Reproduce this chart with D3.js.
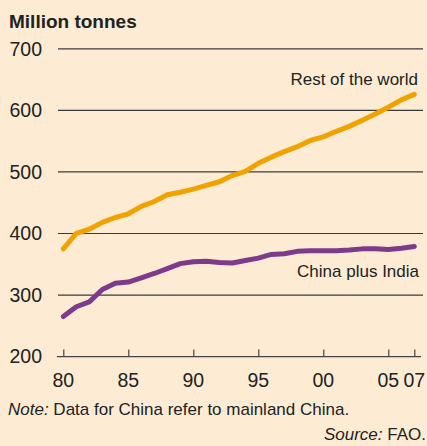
<!DOCTYPE html>
<html>
<head>
<meta charset="utf-8">
<script src="https://cdnjs.cloudflare.com/ajax/libs/d3/7.8.5/d3.min.js"></script>
<style>
    body { margin: 0; background: #fdecd3; }
    text { font-family: "Liberation Sans", Arial, sans-serif; fill: #222; }
</style>
</head>
<body>
<div id="graph"></div>
<script>
var WIDTH = 427;
var HEIGHT = 446;

// Data, million tonnes
var years = [1980, 1981, 1982, 1983, 1984, 1985, 1986, 1987, 1988, 1989,
             1990, 1991, 1992, 1993, 1994, 1995, 1996, 1997, 1998, 1999,
             2000, 2001, 2002, 2003, 2004, 2005, 2006, 2007];
var restOfWorld = [375, 400, 407, 418, 426, 432, 444, 452, 463, 467,
                   472, 478, 484, 494, 501, 514, 524, 533, 541, 551,
                   557, 566, 574, 584, 594, 605, 617, 626];
var chinaIndia = [265, 281, 289, 309, 319, 321, 328, 335, 343, 351,
                  354, 355, 353, 352, 356, 360, 366, 367, 371, 372,
                  372, 372, 373, 375, 375, 374, 376, 379];
var yTicks = [200, 300, 400, 500, 600, 700];
var xTicks = [1980, 1985, 1990, 1995, 2000, 2005, 2007];
var xTickLabels = ["80", "85", "90", "95", "00", "05", "07"];

var svg = d3.select("#graph").append("svg")
    .attr("width", WIDTH)
    .attr("height", HEIGHT);

svg.append("rect")
    .attr("width", WIDTH)
    .attr("height", HEIGHT)
    .attr("fill", "#fdecd3");

var x = d3.scaleLinear().domain([1980, 2007]).range([63.3, 414.3]);
var y = d3.scaleLinear().domain([200, 700]).range([356.6, 48.8]);

// Gridlines
svg.append("g")
    .selectAll("line")
    .data(yTicks.filter(function(d) { return d > 200; }))
    .enter().append("line")
    .attr("x1", 58)
    .attr("x2", 423)
    .attr("y1", function(d) { return y(d); })
    .attr("y2", function(d) { return y(d); })
    .attr("stroke", "#3a3a3a")
    .attr("stroke-width", 1.2);

// Y labels
svg.append("g")
    .selectAll("text")
    .data(yTicks)
    .enter().append("text")
    .attr("x", 42)
    .attr("y", function(d) { return y(d); })
    .attr("dy", "0.35em")
    .attr("text-anchor", "end")
    .style("font-size", "19.5px")
    .text(function(d) { return d; });

// X axis
var xAxis = d3.axisTop(x)
    .tickValues(xTicks)
    .tickSize(7)
    .tickSizeOuter(0)
    .tickFormat("");

var gx = svg.append("g")
    .attr("transform", "translate(0," + y(200) + ")")
    .call(xAxis);
gx.select(".domain")
    .attr("d", "M57,0H421")
    .attr("stroke", "#444")
    .attr("stroke-width", 1.2);
gx.selectAll(".tick line")
    .attr("stroke", "#444")
    .attr("stroke-width", 1.2);

svg.append("g")
    .selectAll("text")
    .data(xTicks)
    .enter().append("text")
    .attr("x", function(d) { return x(d); })
    .attr("y", 387)
    .attr("text-anchor", "middle")
    .style("font-size", "19.5px")
    .text(function(d, i) { return xTickLabels[i]; });

// Lines
var line = d3.line()
    .x(function(d) { return x(d[0]); })
    .y(function(d) { return y(d[1]); });

function plotSeries(values, colour) {
    svg.append("path")
        .datum(years.map(function(yr, i) { return [yr, values[i]]; }))
        .attr("d", line)
        .attr("fill", "none")
        .attr("stroke", colour)
        .attr("stroke-width", 5)
        .attr("stroke-linecap", "round")
        .attr("stroke-linejoin", "round");
}

plotSeries(restOfWorld, "#f0a200");
plotSeries(chinaIndia, "#7d3b8b");

// Labels
svg.append("text")
    .attr("x", 418)
    .attr("y", 85)
    .attr("text-anchor", "end")
    .style("font-size", "17px")
    .text("Rest of the world");

svg.append("text")
    .attr("x", 419)
    .attr("y", 277)
    .attr("text-anchor", "end")
    .style("font-size", "17px")
    .text("China plus India");

svg.append("text")
    .attr("x", 9)
    .attr("y", 27.5)
    .style("font-size", "19px")
    .style("font-weight", "bold")
    .text("Million tonnes");

var note = svg.append("text")
    .attr("x", 8)
    .attr("y", 415)
    .style("font-size", "17px");
note.append("tspan").style("font-style", "italic").text("Note:");
note.append("tspan").text(" Data for China refer to mainland China.");

var source = svg.append("text")
    .attr("x", 426)
    .attr("y", 440)
    .attr("text-anchor", "end")
    .style("font-size", "17px");
source.append("tspan").style("font-style", "italic").text("Source:");
source.append("tspan").text(" FAO.");
</script>
</body>
</html>
